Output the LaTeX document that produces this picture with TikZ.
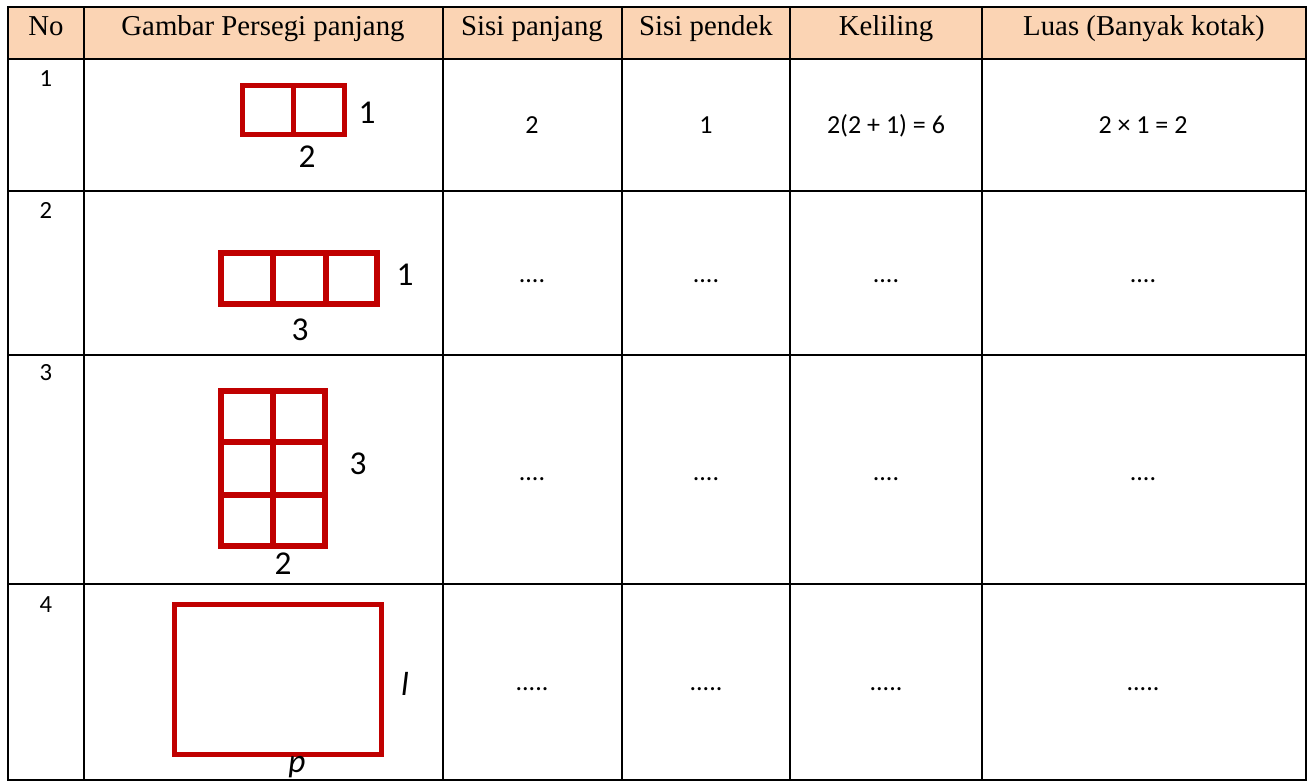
\documentclass[tikz,border=0pt]{standalone}
\usepackage{fontspec}
\setmainfont{Liberation Serif}
\newfontfamily\calibri{Carlito}
\usepackage{xcolor}
\definecolor{peach}{HTML}{FBD4B4}
\definecolor{merah}{HTML}{C00000}

\begin{document}
\begin{tikzpicture}[x=0.75pt,y=-0.75pt,
  judul/.style={anchor=base,inner sep=0pt,font=\fontsize{21.6}{24}\selectfont},
  isi/.style={anchor=base,inner sep=0pt,font=\calibri\fontsize{19.5}{22}\selectfont},
  nomor/.style={anchor=base,inner sep=0pt,font=\calibri\fontsize{18.5}{20}\selectfont},
  ukuran/.style={anchor=base,inner sep=0pt,font=\calibri\fontsize{25}{27}\selectfont},
  kotak/.style={draw=merah,line width=4.5pt}]
  \useasboundingbox (0,0) rectangle (1311,782);
  \path[fill=peach] (8,7) rectangle (1306,59);

  % garis tabel
  \foreach \x in {8,84,443,622,790,982,1306}
    \draw[line width=2pt,line cap=rect] (\x,7) -- (\x,780);
  \foreach \y in {7,59,191,355,584,780}
    \draw[line width=2pt,line cap=rect] (8,\y) -- (1306,\y);

  % kepala tabel
  \node[judul] (hNo) at (46,35) {No};
  \node[judul] (hGambar) at (263,35) {Gambar Persegi panjang};
  \node[judul] (hPanjang) at (532,35) {Sisi panjang};
  \node[judul] (hPendek) at (706,35) {Sisi pendek};
  \node[judul] (hKeliling) at (886,35) {Keliling};
  \node[judul] (hLuas) at (1144,35) {Luas (Banyak kotak)};

  % nomor
  \node[nomor] (no1) at (46,86) {1};
  \node[nomor] (no2) at (46,218) {2};
  \node[nomor] (no3) at (46,380) {3};
  \node[nomor] (no4) at (46,612) {4};

  % baris 1
  \draw[kotak,line width=3.75pt] (242.5,85.5) rectangle (344.5,134.5);
  \draw[kotak,line width=3.75pt] (293,85.5) -- (293,134.5);
  \node[ukuran] (l1) at (367,123) {1};
  \node[ukuran] (p1) at (307,167) {2};
  \node[isi] (pj1) at (532,133) {2};
  \node[isi] (pd1) at (706,133) {1};
  \node[isi] (kel1) at (886,133) {2(2 + 1) = 6};
  \node[isi] (lu1) at (1143,133) {2 × 1 = 2};

  % baris 2
  \draw[kotak] (221,253) rectangle (377,304);
  \draw[kotak] (273,253) -- (273,304);
  \draw[kotak] (325.5,253) -- (325.5,304);
  \node[ukuran] (l2) at (405,285) {1};
  \node[ukuran] (p2) at (300,340) {3};
  \node[isi] (pj2) at (532,282) {....};
  \node[isi] (pd2) at (706,282) {....};
  \node[isi] (kel2) at (886,282) {....};
  \node[isi] (lu2) at (1143,282) {....};

  % baris 3
  \draw[kotak] (221,391) rectangle (325,546);
  \draw[kotak] (273,391) -- (273,546);
  \draw[kotak] (221,442) -- (325,442);
  \draw[kotak] (221,495) -- (325,495);
  \node[ukuran] (l3) at (358,474) {3};
  \node[ukuran] (p3) at (283,574) {2};
  \node[isi] (pj3) at (532,480) {....};
  \node[isi] (pd3) at (706,480) {....};
  \node[isi] (kel3) at (886,480) {....};
  \node[isi] (lu3) at (1143,480) {....};

  % baris 4
  \draw[kotak,line width=3.5pt] (174.5,604.5) rectangle (381.5,754.5);
  \node[ukuran,font=\calibri\itshape\fontsize{25}{27}\selectfont] (l4) at (405,695) {l};
  \node[ukuran,font=\calibri\itshape\fontsize{25}{27}\selectfont] (p4) at (297,772) {p};
  \node[isi] (pj4) at (532,690) {.....};
  \node[isi] (pd4) at (706,690) {.....};
  \node[isi] (kel4) at (886,690) {.....};
  \node[isi] (lu4) at (1143,690) {.....};
\end{tikzpicture}
\end{document}
